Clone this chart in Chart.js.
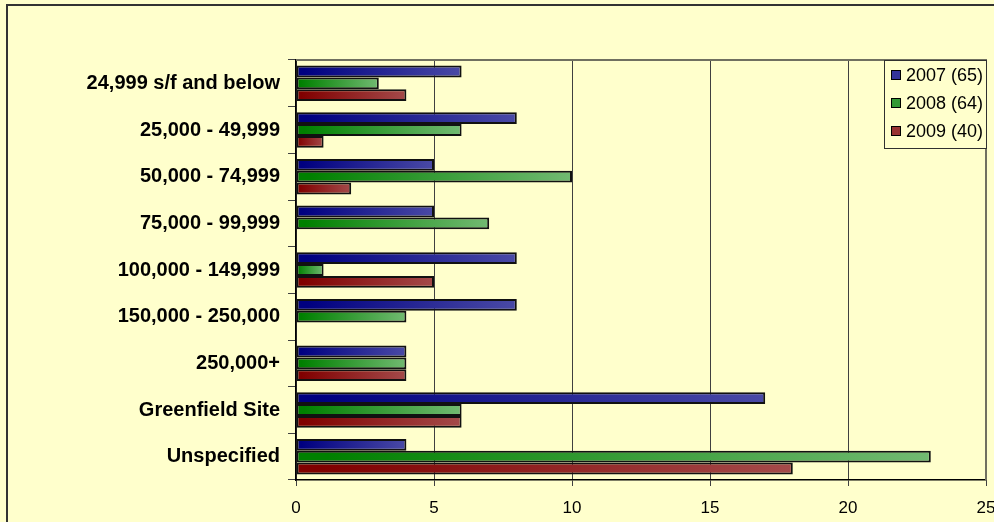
<!DOCTYPE html>
<html>
<head>
<meta charset="utf-8">
<script src="https://cdn.jsdelivr.net/npm/chart.js@4.4.1/dist/chart.umd.min.js"></script>
<style>
html,body{margin:0;padding:0;background:#ffffcc;}
</style>
</head>
<body>
<canvas id="graficoTamanos" width="994" height="522"></canvas>
<script>
const categorias = ['24,999 s/f and below', '25,000 - 49,999', '50,000 - 74,999', '75,000 - 99,999',
  '100,000 - 149,999', '150,000 - 250,000', '250,000+', 'Greenfield Site', 'Unspecified'];
const valores2007 = [6, 8, 5, 5, 8, 8, 4, 17, 4];
const valores2008 = [3, 6, 10, 7, 1, 4, 4, 6, 23];
const valores2009 = [4, 1, 2, 0, 5, 0, 4, 6, 18];
const nombresSeries = ['2007 (65)', '2008 (64)', '2009 (40)'];
const ticksX = [0, 5, 10, 15, 20, 25];

const fuente = "'Liberation Sans', Arial, sans-serif";

// degradado horizontal por barra, oscuro a la izquierda
function degradado(oscuro, claro) {
  return function (ctx) {
    const chart = ctx.chart;
    const x = chart.scales.x;
    if (!chart.chartArea || !x || ctx.raw == null) return oscuro;
    const x0 = x.getPixelForValue(0);
    const x1 = x.getPixelForValue(ctx.raw);
    if (x1 - x0 < 2) return oscuro;
    const g = chart.ctx.createLinearGradient(x0, 0, x1, 0);
    g.addColorStop(0, oscuro);
    g.addColorStop(0.05, oscuro);
    g.addColorStop(1, claro);
    return g;
  };
}

const coloresLeyenda = ['#333399', '#339933', '#993333'];

const decorado = {
  id: 'decorado',
  beforeDraw(chart) {
    const c = chart.ctx;
    c.save();
    c.fillStyle = '#ffffcc';
    c.fillRect(0, 0, chart.width, chart.height);
    c.strokeStyle = '#333333';
    c.lineWidth = 2;
    c.strokeRect(7, 5, chart.width + 20, chart.height + 20);
    c.restore();
  },
  beforeDatasetsDraw(chart) {
    const a = chart.chartArea;
    const c = chart.ctx;
    c.save();
    c.strokeStyle = '#707060';
    c.lineWidth = 2;
    c.beginPath();
    c.moveTo(a.left, a.top);
    c.lineTo(a.right, a.top);
    c.lineTo(a.right, a.bottom);
    c.stroke();
    c.restore();
  },
  afterDraw(chart) {
    const a = chart.chartArea;
    const c = chart.ctx;
    c.save();
    const lx = 884, ly = a.top, lw = a.right - 884 + 1, lh = 88;
    c.fillStyle = '#ffffcc';
    c.fillRect(lx, ly, lw, lh);
    c.strokeStyle = '#303030';
    c.lineWidth = 1;
    c.strokeRect(lx + 0.5, ly + 0.5, lw - 1, lh);
    c.font = '18px ' + fuente;
    c.textBaseline = 'middle';
    nombresSeries.forEach((n, i) => {
      const y = ly + 15 + i * 28;
      c.fillStyle = coloresLeyenda[i];
      c.fillRect(892, y - 4, 8, 8);
      c.strokeStyle = '#000';
      c.strokeRect(891.5, y - 4.5, 9, 9);
      c.fillStyle = '#000';
      c.fillText(n, 906, y + 1);
    });
    c.restore();
  }
};

const ctxTamanos = document.getElementById('graficoTamanos');
new Chart(ctxTamanos, {
  type: 'bar',
  data: {
    labels: categorias,
    datasets: [{
      label: nombresSeries[0],
      data: valores2007,
      backgroundColor: degradado('#000080', '#4a4aa6')
    }, {
      label: nombresSeries[1],
      data: valores2008,
      backgroundColor: degradado('#008000', '#72ba72')
    }, {
      label: nombresSeries[2],
      data: valores2009,
      backgroundColor: degradado('#800000', '#a44a4a')
    }]
  },
  options: {
    indexAxis: 'y',
    responsive: false,
    animation: false,
    layout: { padding: { top: 60, right: 8, left: 0, bottom: 0 } },
    datasets: {
      bar: {
        borderColor: '#111111',
        borderWidth: 2,
        borderSkipped: false,
        barPercentage: 1.0,
        categoryPercentage: 0.76
      }
    },
    scales: {
      x: {
        min: 0,
        max: 25,
        afterFit: s => { s.height = 42; s.paddingLeft = 0; s.paddingRight = 0; },
        afterBuildTicks: s => { s.ticks = ticksX.map(v => ({ value: v })); },
        grid: { color: '#404040', lineWidth: 1, tickLength: 6 },
        border: { color: '#000', width: 1.5 },
        ticks: { color: '#000', padding: 12, maxRotation: 0, font: { family: fuente, size: 17 } }
      },
      y: {
        afterFit: s => { s.width = 296; s.paddingTop = 0; s.paddingBottom = 0; },
        grid: { drawOnChartArea: false, tickLength: 8, color: '#404040', offset: true },
        border: { color: '#000', width: 1.5 },
        ticks: { color: '#000', padding: 8, font: { family: fuente, size: 20, weight: 'bold' } }
      }
    },
    plugins: {
      legend: { display: false },
      title: { display: false },
      tooltip: { enabled: false }
    }
  },
  plugins: [decorado]
});
</script>
</body>
</html>
